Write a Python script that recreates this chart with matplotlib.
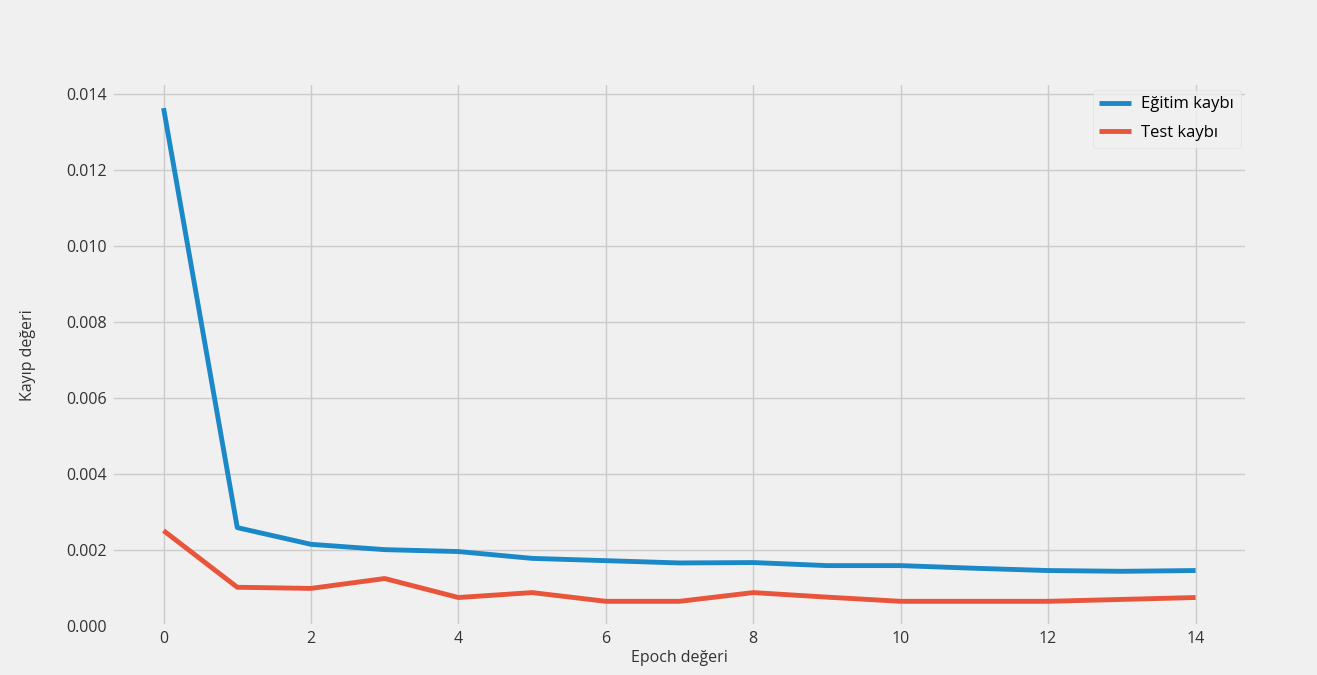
import matplotlib.pyplot as plt

plt.style.use('fivethirtyeight')
plt.rcParams['font.family'] = ['Open Sans', 'DejaVu Sans']

epochs = list(range(15))
train_loss = [0.01364, 0.00260, 0.00216, 0.00202, 0.00197, 0.00179, 0.00173, 0.00167,
              0.00168, 0.00160, 0.00160, 0.00153, 0.00147, 0.00145, 0.00147]
test_loss = [0.00252, 0.00103, 0.00100, 0.00126, 0.00076, 0.00089, 0.00066, 0.00066,
             0.00089, 0.00077, 0.00066, 0.00066, 0.00066, 0.00071, 0.00076]

fig = plt.figure(figsize=(13.17, 6.75), dpi=100)
ax = fig.add_axes([0.085, 0.072, 0.862, 0.805])

ax.plot(epochs, train_loss, lw=3.5, color='#1b88c8', label='Eğitim kaybı')
ax.plot(epochs, test_loss, lw=3.5, color='#e8553a', label='Test kaybı')

ax.set_xlabel('Epoch değeri', fontsize=11.5, color='#333333', labelpad=2)
ax.set_ylabel('Kayıp değeri', fontsize=11.5, color='#333333', labelpad=22)
ax.tick_params(labelsize=11.5, colors='#333333')
ax.set_xticks(range(0, 15, 2))
ax.set_ylim(0, 0.0143)
ax.grid(True, color='#cbcbcb', lw=1)

leg = ax.legend(loc='upper right', fontsize=12, frameon=True, handlelength=1.9,
                handletextpad=0.6, labelspacing=0.75, borderaxespad=0.4)
leg.get_frame().set_facecolor('#f0f0f0')
leg.get_frame().set_edgecolor('#dddddd')

fig.savefig('out.png', dpi=100)
